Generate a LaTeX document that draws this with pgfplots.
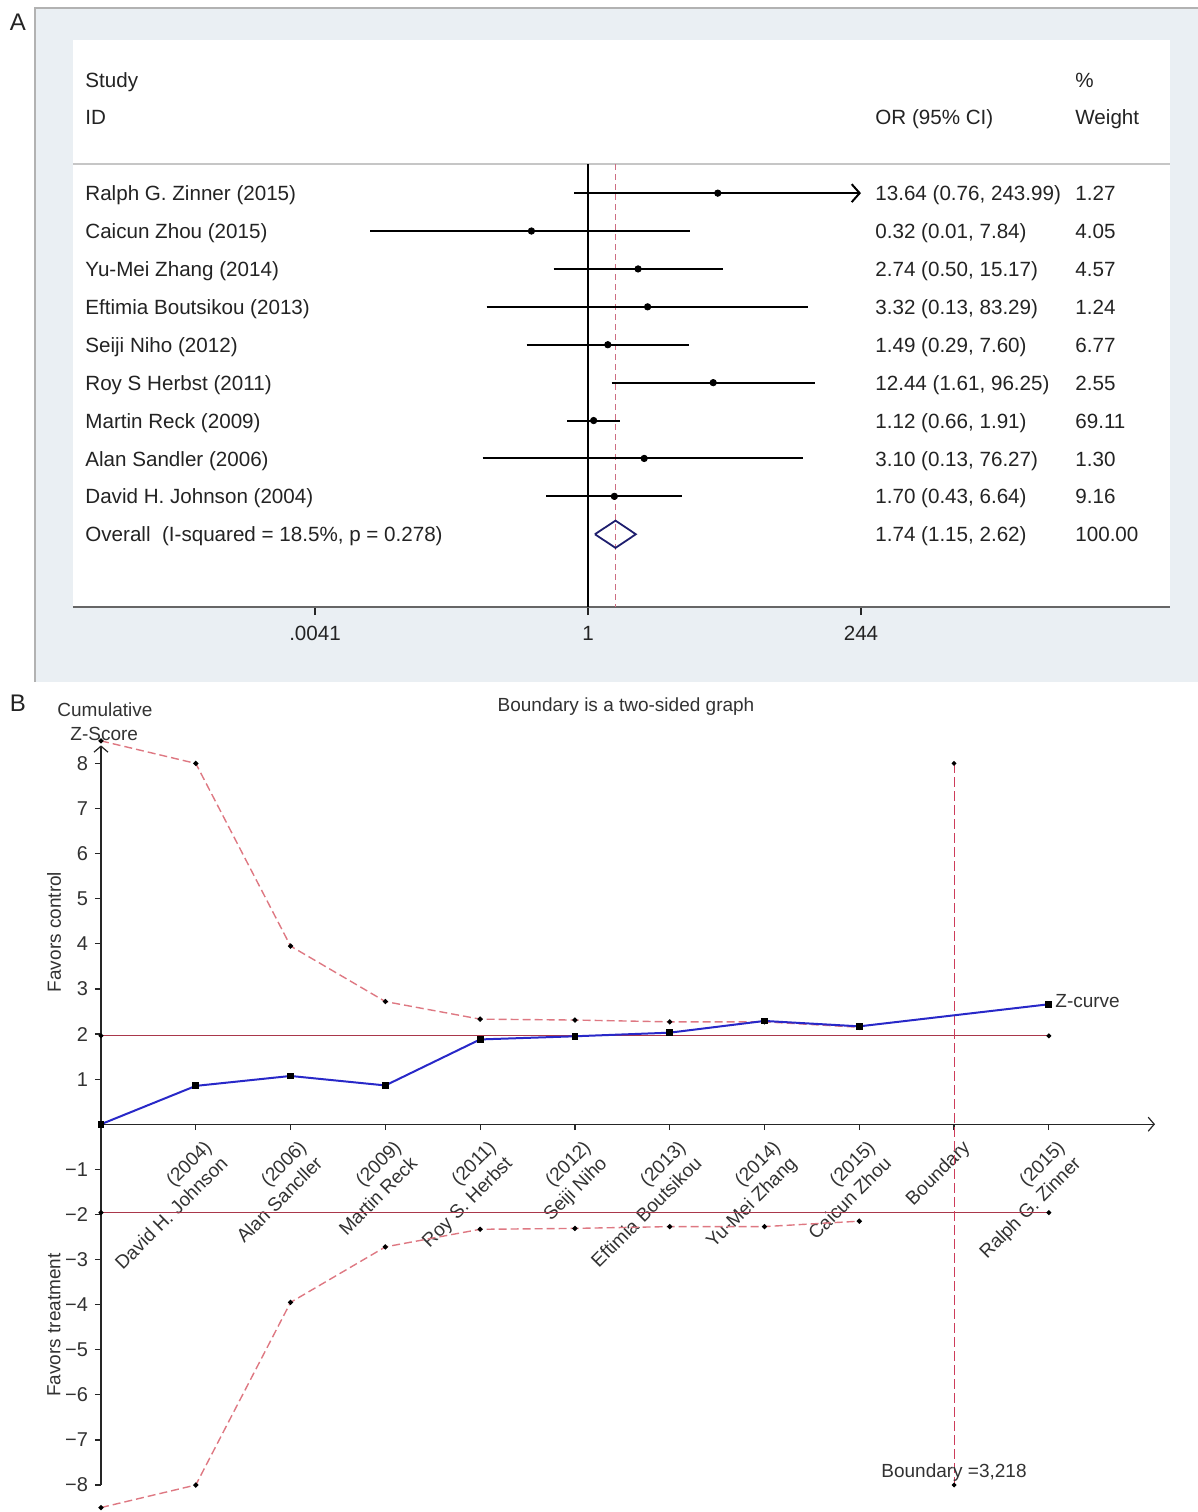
\documentclass[border=0pt]{standalone}
\usepackage{fontspec}
\setmainfont{Liberation Sans}
\usepackage{pgfplots}
\pgfplotsset{compat=1.18}
\usetikzlibrary{arrows.meta}
\definecolor{panelbg}{RGB}{234,239,243}
\definecolor{txtA}{RGB}{35,35,35}
\definecolor{txtB}{RGB}{50,50,50}
\definecolor{refred}{RGB}{205,110,130}
\definecolor{diam}{RGB}{30,30,110}
\definecolor{bndlight}{RGB}{222,120,130}
\definecolor{hline}{RGB}{170,55,75}
\definecolor{vline}{RGB}{205,60,90}
\definecolor{zblue}{RGB}{40,40,200}
\newcommand\fa{\fontsize{10.3}{12}\selectfont}
\newcommand\fb{\fontsize{9.5}{11.5}\selectfont}
\begin{document}
\begin{tikzpicture}
\useasboundingbox (0,0) rectangle (599pt,-756pt);
\begin{scope}[x=0.5pt,y=-0.5pt]
 \fill[panelbg] (35,8) rectangle (1198,682);
 \draw[gray!60, line width=0.6pt] (35,682) -- (35,8) -- (1198,8);
 \fill[white] (73,40) rectangle (1170,607);
 \draw[gray!45, line width=0.6pt] (73,164) -- (1170,164);
 \node[font=\fontsize{12}{14}\selectfont, text=txtA] at (18,22) {A};
 \node[font=\fontsize{12}{14}\selectfont, text=txtA] at (18,703) {B};
 \begin{scope}[every node/.style={font=\fa, text=txtA, inner sep=0pt, anchor=base west}]
 \node at (85,87) {Study};
 \node at (85,124) {ID};
 \node at (875,124) {OR (95\% CI)};
 \node at (1075,87) {\%};
 \node at (1075,124) {Weight};
 \foreach \y/\n/\o/\w in {
   193/{Ralph G. Zinner (2015)}/{13.64 (0.76, 243.99)}/1.27,
   231/{Caicun Zhou (2015)}/{0.32 (0.01, 7.84)}/4.05,
   269/{Yu-Mei Zhang (2014)}/{2.74 (0.50, 15.17)}/4.57,
   307/{Eftimia Boutsikou (2013)}/{3.32 (0.13, 83.29)}/1.24,
   345/{Seiji Niho (2012)}/{1.49 (0.29, 7.60)}/6.77,
   383/{Roy S Herbst (2011)}/{12.44 (1.61, 96.25)}/2.55,
   421/{Martin Reck (2009)}/{1.12 (0.66, 1.91)}/69.11,
   459/{Alan Sandler (2006)}/{3.10 (0.13, 76.27)}/1.30,
   496/{David H. Johnson (2004)}/{1.70 (0.43, 6.64)}/9.16,
   534/{Overall\ \ (I-squared = 18.5\%, p = 0.278)}/{1.74 (1.15, 2.62)}/100.00} {
   \node at (85,\y+7) {\n};
   \node at (875,\y+7) {\o};
   \node at (1075,\y+7) {\w};
 }
 \end{scope}
\end{scope}

% ---------- Panel A: forest plot ----------
\begin{axis}[at={(36.5pt,-303.5pt)}, anchor=south west, scale only axis,
  width=548.5pt, height=283.5pt,
  xmode=log, xmin=3.134e-5, xmax=1.229e5, ymin=-3.04, ymax=11.92, y dir=reverse,
  axis x line=bottom, axis y line=none, enlargelimits=false,
  x axis line style={-, draw=gray!80!black, line width=0.6pt},
  xtick={0.0041,1,244}, xticklabels={.0041,1,244},
  tick align=outside, major tick length=4pt, tick style={gray!30!black, line width=0.6pt},
  xticklabel style={font=\fa, text=txtA, yshift=-2pt},
  clip=false]
\addplot[black, line width=0.6pt] coordinates {(1,0.235) (1,11.92)};
\addplot[refred, line width=0.6pt, dash pattern=on 3pt off 2pt] coordinates {(1.74,0.235) (1.74,11.92)};
\addplot[black, line width=1pt, -{Straight Barb[length=4pt,width=9pt]}] coordinates {(0.76,1) (244,1)};
\addplot[black, line width=1pt] coordinates {(0.0125,2) (7.84,2)};
\addplot[black, line width=1pt] coordinates {(0.50,3) (15.17,3)};
\addplot[black, line width=1pt] coordinates {(0.13,4) (83.29,4)};
\addplot[black, line width=1pt] coordinates {(0.29,5) (7.60,5)};
\addplot[black, line width=1pt] coordinates {(1.61,6) (96.25,6)};
\addplot[black, line width=1pt] coordinates {(0.66,7) (1.91,7)};
\addplot[black, line width=1pt] coordinates {(0.12,8) (76.27,8)};
\addplot[black, line width=1pt] coordinates {(0.43,9) (6.64,9)};
\addplot[only marks, mark=*, mark size=1.6pt, black] coordinates {
 (13.64,1) (0.32,2) (2.74,3) (3.32,4) (1.49,5) (12.44,6) (1.12,7) (3.10,8) (1.70,9)};
\addplot[diam, line width=0.9pt] coordinates {(1.15,10) (1.74,9.64) (2.62,10) (1.74,10.36) (1.15,10)};
\end{axis}

% ---------- Panel B: sequential analysis ----------
\begin{axis}[at={(50.5pt,-742.5pt)}, anchor=south west, scale only axis,
  width=527pt, height=369.8pt,
  xmin=0, xmax=11.12, ymin=-8, ymax=8.4, enlargelimits=false,
  axis lines=middle, clip=false,
  axis line style={draw=gray!30!black, line width=0.6pt, -{Straight Barb[length=3pt,width=7pt]}},
  tick align=outside, major tick length=3pt, tick style={gray!30!black, line width=0.6pt},
  ytick={-8,-7,-6,-5,-4,-3,-2,-1,1,2,3,4,5,6,7,8},
  yticklabels={−8,−7,−6,−5,−4,−3,−2,−1,1,2,3,4,5,6,7,8},
  yticklabel style={font=\fontsize{10}{12}\selectfont, text=txtB},
  xtick={1,2,3,4,5,6,7,8,9,10},
  xticklabels={{(2004)\\David H. Johnson},{(2006)\\Alan Sancller},{(2009)\\Martin Reck},{(2011)\\Roy S. Herbst},{(2012)\\Seiji Niho},{(2013)\\Eftimia Boutsikou},{(2014)\\Yu-Mei Zhang},{(2015)\\Caicun Zhou},{Boundary},{(2015)\\Ralph G. Zinner}},
  xticklabel style={font=\fb, text=txtB, rotate=45, anchor=north east, align=right, xshift=3pt, yshift=-2pt}]
\addplot[bndlight, line width=0.7pt, dash pattern=on 4pt off 2pt, mark=*, mark size=0.9pt, mark options={black, solid}]
 coordinates {(0,8.5) (1,8.0) (2,3.95) (3,2.72) (4,2.33) (5,2.31) (6,2.27) (7,2.27) (8,2.15)};
\addplot[bndlight, line width=0.7pt, dash pattern=on 4pt off 2pt, mark=*, mark size=0.9pt, mark options={black, solid}]
 coordinates {(0,-8.5) (1,-8.0) (2,-3.95) (3,-2.72) (4,-2.33) (5,-2.31) (6,-2.27) (7,-2.27) (8,-2.15)};
\addplot[hline, line width=0.6pt, mark=*, mark size=0.9pt, mark options={black}] coordinates {(0,1.96) (10,1.96)};
\addplot[hline, line width=0.6pt, mark=*, mark size=0.9pt, mark options={black}] coordinates {(0,-1.96) (10,-1.96)};
\addplot[vline, line width=0.5pt, dash pattern=on 5pt off 2pt, mark=*, mark size=0.9pt, mark options={black, solid}] coordinates {(9,8) (9,-8)};
\addplot[zblue, line width=1pt, mark=square*, mark size=1.2pt, mark options={black}]
 coordinates {(0,0) (1,0.85) (2,1.07) (3,0.86) (4,1.88) (5,1.95) (6,2.03) (7,2.29) (8,2.17) (10,2.66)};
\end{axis}

\begin{scope}[x=0.5pt,y=-0.5pt, every node/.style={font=\fb, text=txtB, inner sep=0pt}]
 \node at (626,707) {Boundary is a two-sided graph};
 \node[anchor=base west] at (57,716) {Cumulative};
 \node[anchor=base west] at (70,740) {Z-Score};
 \node[rotate=90] at (54,932) {Favors control};
 \node[rotate=90] at (54,1325) {Favors treatment};
 \node[anchor=west] at (1055,1001) {Z-curve};
 \node[anchor=west] at (881,1473) {Boundary =3,218};
\end{scope}
\end{tikzpicture}
\end{document}
